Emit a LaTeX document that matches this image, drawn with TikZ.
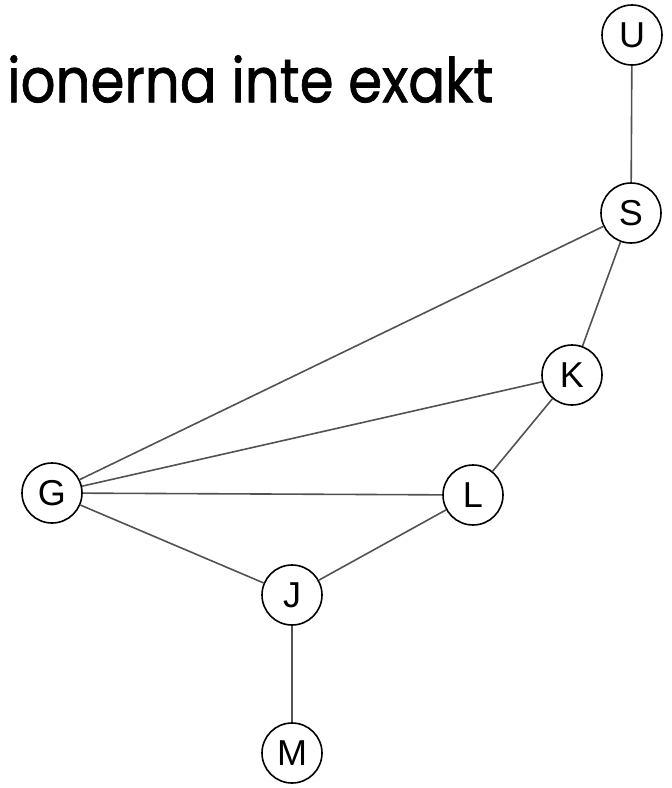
\documentclass[tikz,border=0pt]{standalone}
\usepackage{fontspec}
\setmainfont{Liberation Sans}
\newfontfamily\headfont[FakeBold=1.2]{Poppins}
\begin{document}
\begin{tikzpicture}[x=1pt,y=-1pt,
  vertex/.style={circle,draw=black,line width=1.6pt,fill=white,minimum size=60pt,inner sep=0pt,
    font=\fontsize{36}{40}\selectfont},
  edge/.style={draw=black!68,line width=1.6pt}]
\useasboundingbox (0,0) rectangle (672,788);
\clip (0,0) rectangle (672,788);

% heading, running off the left edge
\node[anchor=south west,inner sep=0pt] (head) at (7,103)
  {\resizebox{486pt}{47pt}{\headfont\llap{t\kern0.22em}ionerna inte exakt}};

% vertices
\node[vertex] (U) at (632,35)  {U};
\node[vertex] (S) at (631,213) {S};
\node[vertex] (K) at (572,375) {K};
\node[vertex] (L) at (473,495) {L};
\node[vertex] (G) at (52,493)  {G};
\node[vertex] (J) at (292,595) {J};
\node[vertex] (M) at (292,753) {M};

% edges
\draw[edge] (U) -- (S);
\draw[edge] (S) -- (K);
\draw[edge] (S) -- (G);
\draw[edge] (K) -- (G);
\draw[edge] (K) -- (L);
\draw[edge] (G) -- (L);
\draw[edge] (G) -- (J);
\draw[edge] (L) -- (J);
\draw[edge] (J) -- (M);
\end{tikzpicture}
\end{document}
